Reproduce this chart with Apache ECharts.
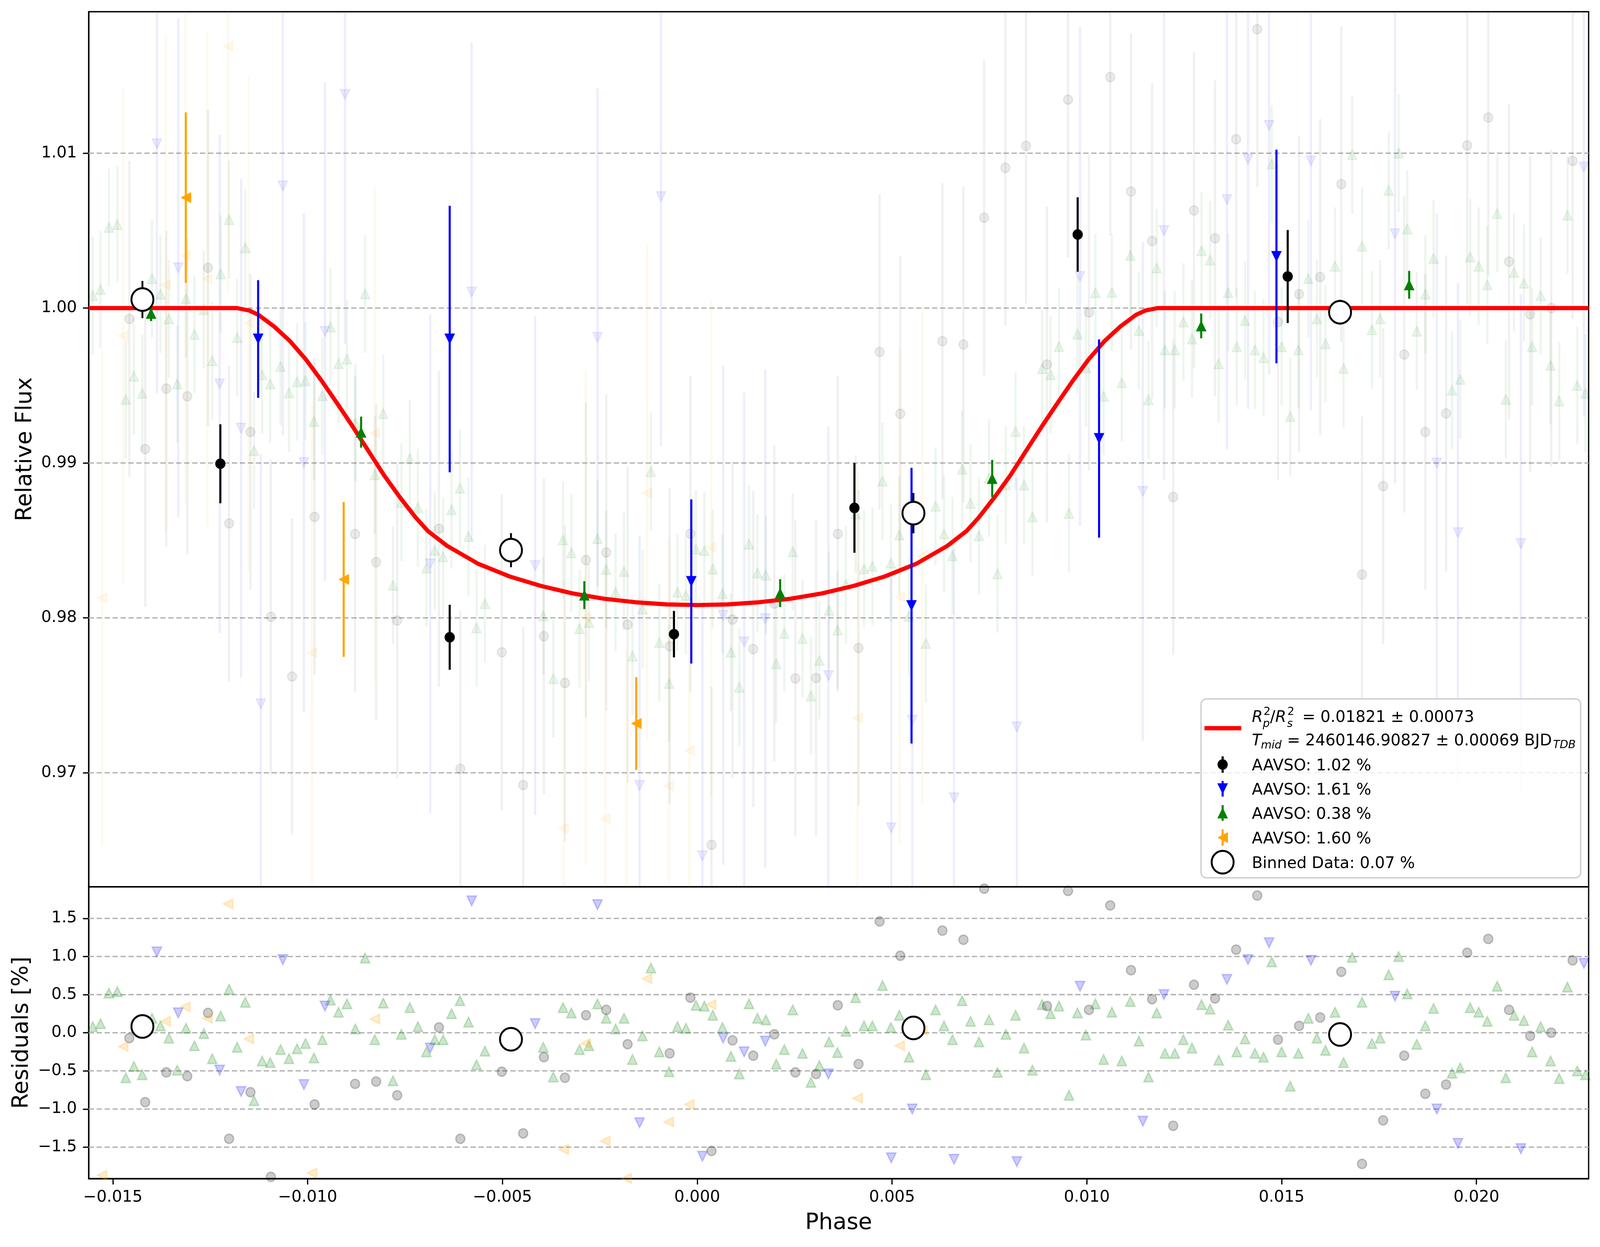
<!DOCTYPE html>
<html><head><meta charset="utf-8">
<script src="https://cdn.jsdelivr.net/npm/echarts@6/dist/echarts.min.js"></script>
<style>html,body{margin:0;padding:0;background:#fff;overflow:hidden}#c{width:4223px;height:3192px}</style>
</head><body><div id="c"></div>
<script>
// ---------------- data ----------------
const xTicks = [-0.015, -0.010, -0.005, 0.000, 0.005, 0.010, 0.015, 0.020];
const yTicksMain = [0.97, 0.98, 0.99, 1.00, 1.01];
const yTicksRes = [-1.5, -1.0, -0.5, 0.0, 0.5, 1.0, 1.5];

// fitted transit model [phase, relative flux]
const modelCurve = [
  [-0.01562,1.0],[-0.01182,1.0],[-0.0115,0.99984],[-0.01126,0.99956],[-0.01086,0.99881],[-0.01045,0.99786],
  [-0.01005,0.99670],[-0.00965,0.99534],[-0.00924,0.99384],[-0.00884,0.99234],[-0.00844,0.99078],[-0.00804,0.98921],
  [-0.00763,0.98778],[-0.00723,0.98649],[-0.00691,0.98560],[-0.00642,0.98465],[-0.00562,0.98349],[-0.00481,0.98267],
  [-0.00401,0.98206],[-0.00320,0.98158],[-0.00240,0.98124],[-0.00159,0.98101],[-0.00078,0.98087],[0.0,0.98083],
  [0.00078,0.98087],[0.00159,0.98101],[0.00240,0.98124],[0.00320,0.98158],[0.00401,0.98206],[0.00481,0.98267],
  [0.00562,0.98349],[0.00642,0.98465],[0.00691,0.98560],[0.00723,0.98649],[0.00763,0.98778],[0.00804,0.98921],
  [0.00844,0.99078],[0.00884,0.99234],[0.00924,0.99384],[0.00965,0.99534],[0.01005,0.99670],[0.01045,0.99786],
  [0.01086,0.99881],[0.01126,0.99956],[0.0115,0.99984],[0.01182,1.0],[0.02288,1.0]
];

// individual observations: [phase, residual %]
const blackRes = [
  [-0.014576,-0.07],[-0.014169,-0.91],[-0.013628,-0.52],[-0.013088,-0.57],[-0.012556,0.26],[-0.012016,-1.39],
  [-0.011467,-0.78],[-0.010943,-1.89],[-0.01040,-2.15],[-0.009821,-0.94],[-0.008782,-0.67],[-0.008241,-0.64],
  [-0.007701,-0.82],[-0.006629,0.07],[-0.006080,-1.39],[-0.005016,-0.51],[-0.004467,-1.32],[-0.003935,-0.32],
  [-0.003395,-0.59],[-0.002855,0.23],[-0.002336,0.30],[-0.001787,-0.15],[-0.000707,-0.27],[-0.000175,0.46],
  [0.000366,-1.55],[0.000906,-0.10],[0.001438,-0.30],[0.001978,-0.02],[0.002519,-0.52],[0.003051,-0.54],
  [0.003608,0.36],[0.004140,-0.41],[0.004680,1.46],[0.005212,1.01],[0.006293,1.34],[0.006833,1.22],
  [0.007365,1.89],[0.00791,2.03],[0.00844,1.97],[0.008978,0.35],[0.009518,1.86],[0.010055,0.30],
  [0.010601,1.67],[0.011134,0.82],[0.011675,0.44],[0.012217,-1.22],[0.012750,0.63],[0.013291,0.45],
  [0.013832,1.09],[0.014374,1.80],[0.014907,-0.09],[0.015448,0.09],[0.015990,0.20],[0.016531,0.80],
  [0.017064,-1.72],[0.017606,-1.15],[0.018147,-0.30],[0.018688,-0.80],[0.019221,-0.68],[0.019763,1.05],
  [0.020304,1.23],[0.020837,0.30],[0.021379,-0.04],[0.021920,0.00],[0.022470,0.95]
];
const blueRes = [
  [-0.013869,1.06],[-0.013321,0.26],[-0.012257,-0.49],[-0.011708,-0.77],[-0.01120,-2.50],[-0.010636,0.96],
  [-0.010095,-0.68],[-0.009555,0.35],[-0.00904,2.07],[-0.006853,-0.20],[-0.005789,1.73],[-0.004160,0.12],
  [-0.002560,1.68],[-0.001480,-1.18],[-0.00093,2.63],[0.000133,-1.62],[0.000665,-0.07],[0.001205,-0.25],
  [0.001746,-0.11],[0.003367,-0.54],[0.004980,-1.64],[0.005520,-1.00],[0.006592,-1.66],[0.008205,-1.69],
  [0.009826,0.61],[0.011438,-1.16],[0.011980,0.50],[0.013596,0.70],[0.014137,0.96],[0.014678,1.18],
  [0.015753,0.95],[0.017910,0.48],[0.018985,-1.00],[0.019526,-1.45],[0.021142,-1.52],[0.022758,0.91]
];
const greenRes = [
  [-0.015515,0.08],[-0.015316,0.12],[-0.015100,0.52],[-0.014884,0.54],[-0.014667,-0.59],[-0.014460,-0.44],
  [-0.014244,-0.55],[-0.013994,0.19],[-0.013778,0.09],[-0.013562,-0.07],[-0.013346,-0.49],[-0.013121,0.06],
  [-0.012905,-0.17],[-0.012664,-0.01],[-0.012448,-0.34],[-0.012232,0.22],[-0.012016,0.57],[-0.011808,-0.19],
  [-0.011600,0.40],[-0.011376,-0.89],[-0.011168,-0.37],[-0.010960,-0.39],[-0.010694,-0.22],[-0.010478,-0.34],
  [-0.010270,-0.21],[-0.010054,-0.14],[-0.009838,-0.33],[-0.009622,-0.09],[-0.009414,0.43],[-0.009206,0.27],
  [-0.008990,0.38],[-0.008774,0.05],[-0.008524,0.98],[-0.008275,-0.09],[-0.008059,0.39],[-0.007809,-0.63],
  [-0.007593,-0.02],[-0.007377,0.33],[-0.007169,0.08],[-0.006953,-0.25],[-0.006737,-0.09],[-0.006521,-0.09],
  [-0.006305,0.25],[-0.006089,0.42],[-0.005872,0.14],[-0.005665,-0.42],[-0.005449,-0.24],[-0.003952,-0.19],
  [-0.003694,-0.58],[-0.003445,0.33],[-0.003229,0.26],[-0.003021,-0.22],[-0.002780,-0.17],[-0.002560,0.38],
  [-0.002336,0.19],[-0.002095,0.05],[-0.001879,0.19],[-0.001663,-0.35],[-0.001405,-0.04],[-0.001189,0.85],
  [-0.000973,-0.25],[-0.000723,-0.51],[-0.000507,0.08],[-0.000291,0.06],[-0.000033,0.36],[0.000183,0.35],
  [0.000399,0.23],[0.000648,0.07],[0.000865,-0.31],[0.001081,-0.54],[0.001330,0.38],[0.001546,0.19],
  [0.001762,0.17],[0.002028,-0.41],[0.002236,-0.22],[0.002452,0.30],[0.002702,-0.27],[0.002918,-0.65],
  [0.003134,-0.43],[0.003383,-0.12],[0.003600,-0.26],[0.003816,0.02],[0.004065,0.46],[0.004281,0.09],
  [0.004497,0.09],[0.004755,0.62],[0.004971,0.07],[0.005187,0.23],[0.005437,-0.32],[0.005869,-0.55],
  [0.006118,0.30],[0.006334,0.09],[0.006551,-0.09],[0.006800,0.42],[0.007016,0.15],[0.007232,-0.12],
  [0.007490,0.17],[0.007706,-0.52],[0.007922,-0.02],[0.008172,0.23],[0.008388,-0.20],[0.008604,-0.49],
  [0.008853,0.37],[0.009070,0.25],[0.009286,0.35],[0.009543,-0.82],[0.009760,0.26],[0.009976,-0.03],
  [0.010220,0.38],[0.010431,-0.35],[0.010643,0.27],[0.010897,-0.37],[0.011117,0.41],[0.011337,-0.11],
  [0.011582,-0.58],[0.011794,0.26],[0.012005,-0.27],[0.012259,-0.27],[0.012479,-0.09],[0.012699,-0.20],
  [0.012944,0.37],[0.013164,0.31],[0.013384,-0.36],[0.013629,0.10],[0.013849,-0.25],[0.014061,-0.08],
  [0.014315,-0.27],[0.014535,-0.32],[0.014746,0.93],[0.015000,-0.25],[0.015220,-0.70],[0.015431,-0.27],
  [0.015685,0.19],[0.015905,-0.07],[0.016125,-0.23],[0.016370,0.27],[0.016590,-0.39],[0.016810,0.99],
  [0.017064,0.40],[0.017318,-0.14],[0.017529,-0.07],[0.017749,0.76],[0.018003,1.00],[0.018223,0.51],
  [0.018469,-0.15],[0.018688,0.09],[0.018900,0.32],[0.019374,-0.53],[0.019585,-0.46],[0.019839,0.33],
  [0.020059,0.27],[0.020279,0.15],[0.020533,0.61],[0.020753,-0.59],[0.020964,0.23],[0.021218,0.16],
  [0.021430,-0.25],[0.021649,0.08],[0.021903,-0.37],[0.022123,-0.60],[0.022335,0.60],[0.022588,-0.50],
  [0.022800,-0.55]
];
const orangeRes = [
  [-0.015274,-1.87],[-0.014734,-0.18],[-0.013645,0.15],[-0.013138,0.34],[-0.012573,0.19],[-0.012041,1.69],
  [-0.011509,-0.08],[-0.009888,-1.84],[-0.008275,0.18],[-0.003428,-1.53],[-0.002863,-0.14],[-0.002361,-1.42],
  [-0.001812,-1.91],[-0.001289,0.71],[-0.000732,-1.17],[-0.000200,-0.94],[0.000357,0.37],[0.004115,-0.86],
  [0.005196,-0.17],[0.005778,0.03]
];
// typical flux uncertainty of each data set
const errBlack = 0.0102, errBlue = 0.0161, errGreen = 0.0038, errOrange = 0.0160;

// per-dataset binned points: [phase, flux, error]
const boldBlack = [[-0.01224,0.98995,0.00255],[-0.006353,0.97875,0.0021],[-0.000597,0.97895,0.0015],
  [0.004035,0.98710,0.0029],[0.009765,1.00475,0.0024],[0.015156,1.00204,0.0030]];
const boldBlue = [[-0.01127,0.99800,0.0038],[-0.006353,0.99800,0.0086],[-0.000152,0.98235,0.0053],
  [0.005500,0.98079,0.0089],[0.010314,0.99158,0.0064],[0.014867,1.00333,0.0069]];
const boldGreen = [[-0.014018,0.99966,0.0005],[-0.008627,0.99199,0.0010],[-0.002897,0.98147,0.0009],
  [0.002129,0.98160,0.0009],[0.007571,0.98900,0.0012],[0.012936,0.99885,0.0008],[0.018274,1.00150,0.0009]];
const boldOrange = [[-0.013126,1.00713,0.0055],[-0.009074,0.98248,0.0050],[-0.001565,0.97318,0.0030]];
// all-data binned points
const binnedMain = [[-0.01424,1.00055,0.0012],[-0.00478,0.98437,0.0011],[0.00555,0.98676,0.0013],[0.01650,0.99973,0.0008]];
const binnedRes = [[-0.01424,0.083],[-0.00478,-0.085],[0.00555,0.063],[0.01650,-0.023]];

// ---------------- layout: design is 4223x3192, mapped onto the real viewport ----------------
const VW = window.innerWidth || 4223, VH = window.innerHeight || 3192;
const SX = VW / 4223, SY = VH / 3192, SF = (SX + SY) / 2;
const X = v => v * SX, Y = v => v * SY, F = v => v * SF;
const dom = document.getElementById('c');
dom.style.width = VW + 'px'; dom.style.height = VH + 'px';

const X_MIN = -0.01562, X_MAX = 0.02288;
const Y_MIN = 0.96264, Y_MAX = 1.01913;
const R_MIN = -1.913, R_MAX = 1.914;
const FONT = '"DejaVu Sans"';

function modelAt(p){
  for (let i = 1; i < modelCurve.length; i++){
    const a = modelCurve[i-1], b = modelCurve[i];
    if (p <= b[0]) return a[1] + (b[1]-a[1]) * (p-a[0]) / (b[0]-a[0]);
  }
  return modelCurve[modelCurve.length-1][1];
}
// observed flux = model + residual
function toFlux(res, err){ return res.map(d => [d[0], modelAt(d[0]) + d[1]/100, err]); }

const SYM_DOWN = 'path://M0,0L10,0L5,10Z';
const SYM_UP = 'path://M5,0L10,10L0,10Z';
const SYM_LEFT = 'path://M0,5L10,0L10,10Z';

function errSeries(data, color, width, opacity, z){
  return {type:'custom', xAxisIndex:0, yAxisIndex:0, data, z, silent:true, clip:true,
    encode:{x:0, y:1},
    renderItem(params, api){
      const x = api.value(0), y = api.value(1), e = api.value(2);
      const lo = Math.max(Y_MIN, y - e), hi = Math.min(Y_MAX, y + e);
      const p1 = api.coord([x, lo]), p2 = api.coord([x, hi]);
      return {type:'line', shape:{x1:p1[0], y1:p1[1], x2:p2[0], y2:p2[1]},
        style:{stroke:color, lineWidth:X(width), opacity:opacity}};
    }};
}
function scatterSeries(data, axis, color, symbol, size, opacity, z, bw, fill){
  return {type:'scatter', xAxisIndex:axis, yAxisIndex:axis, data:data.map(d=>[d[0],d[1]]), z, silent:true,
    symbol, symbolSize:[X(size), Y(size)], clip:true,
    itemStyle:{color: fill || color, borderColor:color, borderWidth:F(bw), opacity:opacity}};
}
function gridLines(ticks, axis, xmin){
  return {type:'custom', xAxisIndex:axis, yAxisIndex:axis, data:ticks.map(v=>[xmin, v]), z:1, silent:true,
    encode:{x:0, y:1},
    renderItem(params, api){
      const cs = params.coordSys;
      const y = api.coord([api.value(0), api.value(1)])[1];
      return {type:'line', shape:{x1:cs.x, y1:y, x2:cs.x+cs.width, y2:y},
        style:{stroke:'#b0b0b0', lineWidth:Y(3.3), lineDash:[X(14), X(7)]}};
    }};
}
const minus = s => s.replace('-', '\u2212');

const series = [
  gridLines(yTicksMain, 0, X_MIN),
  gridLines(yTicksRes, 1, X_MIN),
  // faint individual points, main panel
  errSeries(toFlux(blackRes, errBlack), '#000000', 6, 0.06, 2),
  errSeries(toFlux(blueRes, errBlue), '#0000ff', 6, 0.07, 2),
  errSeries(toFlux(greenRes, errGreen), '#008000', 6, 0.07, 2),
  errSeries(toFlux(orangeRes, errOrange), '#ffa500', 6, 0.07, 2),
  scatterSeries(toFlux(blackRes, errBlack), 0, '#000000', 'circle', 24, 0.08, 3, 3),
  scatterSeries(toFlux(blueRes, errBlue), 0, '#0000ff', SYM_DOWN, 25, 0.08, 3, 3),
  scatterSeries(toFlux(greenRes, errGreen), 0, '#008000', SYM_UP, 25, 0.08, 3, 3),
  scatterSeries(toFlux(orangeRes, errOrange), 0, '#ffa500', SYM_LEFT, 25, 0.08, 3, 3),
  // model
  {type:'line', xAxisIndex:0, yAxisIndex:0, data:modelCurve, showSymbol:false, symbol:'none', z:4, silent:true,
    lineStyle:{color:'#ff0000', width:F(10.8)}},
  // per-dataset binned points
  errSeries(boldBlack, '#000000', 5.5, 1, 5),
  errSeries(boldBlue, '#0000ff', 5.5, 1, 5),
  errSeries(boldGreen, '#008000', 5.5, 1, 5),
  errSeries(boldOrange, '#ffa500', 5.5, 1, 5),
  scatterSeries(boldBlack, 0, '#000000', 'circle', 27, 1, 6, 0),
  scatterSeries(boldBlue, 0, '#0000ff', SYM_DOWN, 28, 1, 6, 0),
  scatterSeries(boldGreen, 0, '#008000', SYM_UP, 28, 1, 6, 0),
  scatterSeries(boldOrange, 0, '#ffa500', SYM_LEFT, 28, 1, 6, 0),
  // all-data bins
  errSeries(binnedMain, '#000000', 5, 1, 7),
  scatterSeries(binnedMain, 0, '#000000', 'circle', 58, 1, 8, 5, '#ffffff'),
  // residual panel
  scatterSeries(blackRes, 1, '#000000', 'circle', 24, 0.2, 3, 3.5),
  scatterSeries(blueRes, 1, '#0000ff', SYM_DOWN, 25, 0.2, 3, 3.5),
  scatterSeries(greenRes, 1, '#008000', SYM_UP, 25, 0.2, 3, 3.5),
  scatterSeries(orangeRes, 1, '#ffa500', SYM_LEFT, 25, 0.2, 3, 3.5),
  scatterSeries(binnedRes, 1, '#000000', 'circle', 58, 1, 8, 5, '#ffffff')
];

const tickLineX = {color:'#000', width:X(3.3)};
const tickLineY = {color:'#000', width:Y(3.3)};
const labelBase = {fontSize:F(41.7), fontFamily:FONT, color:'#000'};
const nameStyle = {fontSize:F(58.3), fontFamily:FONT, color:'#000'};

// legend (drawn as graphics); legend text is scaled with the width so pieces line up
const LX = 3227, TX = 3304, DY = 5;
const txt = (text, x, y, size, italic) => ({type:'text', z:101, style:{text, x:X(x), y:Y(y + DY),
  font:(italic?'italic ':'') + (size * SX).toFixed(1) + 'px ' + FONT, fill:'#000', verticalAlign:'middle', align:'left'}});
const vbar = (y1, y2, color) => ({type:'line', z:101, shape:{x1:X(LX), y1:Y(y1), x2:X(LX), y2:Y(y2)},
  style:{stroke:color, lineWidth:X(5.5)}});
const tri = (pts, color) => ({type:'polygon', z:102, shape:{points:pts.map(p=>[X(p[0]), Y(p[1])])}, style:{fill:color}});
const legendItems = [
  {type:'rect', z:100, shape:{x:X(3170), y:Y(1789), width:X(1002), height:Y(458), r:F(14)},
    style:{fill:'rgba(255,255,255,0.8)', stroke:'#cccccc', lineWidth:F(3.3)}},
  {type:'line', z:101, shape:{x1:X(3179), y1:Y(1864), x2:X(3276), y2:Y(1864)}, style:{stroke:'#ff0000', lineWidth:Y(10.8)}},
  txt('R', TX, 1833, 41.7, true), txt('2', 3335, 1818, 29, false), txt('p', 3333, 1849, 29, true),
  txt('/', 3352, 1833, 41.7, false), txt('R', 3366, 1833, 41.7, true),
  txt('2', 3398, 1818, 29, false), txt('s', 3397, 1849, 29, true),
  txt('= 0.01821 \u00b1 0.00073', 3437, 1833, 41.7, false),
  txt('T', TX, 1893, 41.7, true), txt('mid', 3328, 1904, 29, true),
  txt('= 2460146.90827 \u00b1 0.00069 BJD', 3397, 1893, 41.7, false), txt('TDB', 4099, 1903, 29, true),
  vbar(1936, 1978, '#000'),
  {type:'ellipse', z:102, shape:{cx:X(LX), cy:Y(1957), rx:X(13.5), ry:Y(13.5)}, style:{fill:'#000'}},
  txt('AAVSO: 1.02 %', TX, 1957, 41.7, false),
  vbar(1999, 2039, '#0000ff'),
  tri([[LX-14,2005],[LX+14,2005],[LX,2033]], '#0000ff'),
  txt('AAVSO: 1.61 %', TX, 2019, 41.7, false),
  vbar(2061, 2101, '#008000'),
  tri([[LX,2067],[LX+14,2095],[LX-14,2095]], '#008000'),
  txt('AAVSO: 0.38 %', TX, 2081, 41.7, false),
  vbar(2123, 2165, '#ffa500'),
  tri([[LX-14,2144],[LX+14,2130],[LX+14,2158]], '#ffa500'),
  txt('AAVSO: 1.60 %', TX, 2144, 41.7, false),
  {type:'ellipse', z:102, shape:{cx:X(LX), cy:Y(2207), rx:X(29), ry:Y(29)}, style:{fill:'#ffffff', stroke:'#000', lineWidth:F(5)}},
  txt('Binned Data: 0.07 %', TX, 2207, 41.7, false)
];

const option = {
  animation:false,
  backgroundColor:'#ffffff',
  grid:[
    {left:X(234), top:Y(30), width:X(3959), height:Y(2240), show:true, borderColor:'#000', borderWidth:F(3.3), backgroundColor:'transparent'},
    {left:X(234), top:Y(2270), width:X(3959), height:Y(747), show:true, borderColor:'#000', borderWidth:F(3.3), backgroundColor:'transparent'}
  ],
  xAxis:[
    {type:'value', gridIndex:0, min:X_MIN, max:X_MAX, axisLine:{show:false}, axisTick:{show:false},
      axisLabel:{show:false}, splitLine:{show:false}},
    {type:'value', gridIndex:1, min:X_MIN, max:X_MAX, axisLine:{show:true, onZero:false, lineStyle:tickLineY},
      axisTick:{show:true, customValues:xTicks, length:Y(15), lineStyle:tickLineX},
      axisLabel:Object.assign({customValues:xTicks, margin:Y(28), formatter:v=>minus(v.toFixed(3))}, labelBase),
      splitLine:{show:false},
      name:'Phase', nameLocation:'middle', nameGap:Y(86), nameTextStyle:nameStyle}
  ],
  yAxis:[
    {type:'value', gridIndex:0, min:Y_MIN, max:Y_MAX, axisLine:{show:true, onZero:false, lineStyle:tickLineX},
      axisTick:{show:true, customValues:yTicksMain, length:X(15), lineStyle:tickLineY},
      axisLabel:Object.assign({customValues:yTicksMain, margin:X(31), formatter:v=>v.toFixed(2)}, labelBase),
      splitLine:{show:false},
      name:'Relative Flux', nameLocation:'middle', nameGap:X(137), nameTextStyle:nameStyle},
    {type:'value', gridIndex:1, min:R_MIN, max:R_MAX, axisLine:{show:true, onZero:false, lineStyle:tickLineX},
      axisTick:{show:true, customValues:yTicksRes, length:X(15), lineStyle:tickLineY},
      axisLabel:Object.assign({customValues:yTicksRes, margin:X(31), formatter:v=>minus(v.toFixed(1))}, labelBase),
      splitLine:{show:false},
      name:'Residuals [%]', nameLocation:'middle', nameGap:X(147), nameTextStyle:nameStyle}
  ],
  series,
  graphic:legendItems
};

const chart = echarts.init(dom, null, {renderer:'canvas', width:VW, height:VH});
chart.setOption(option);
</script>
</body></html>
